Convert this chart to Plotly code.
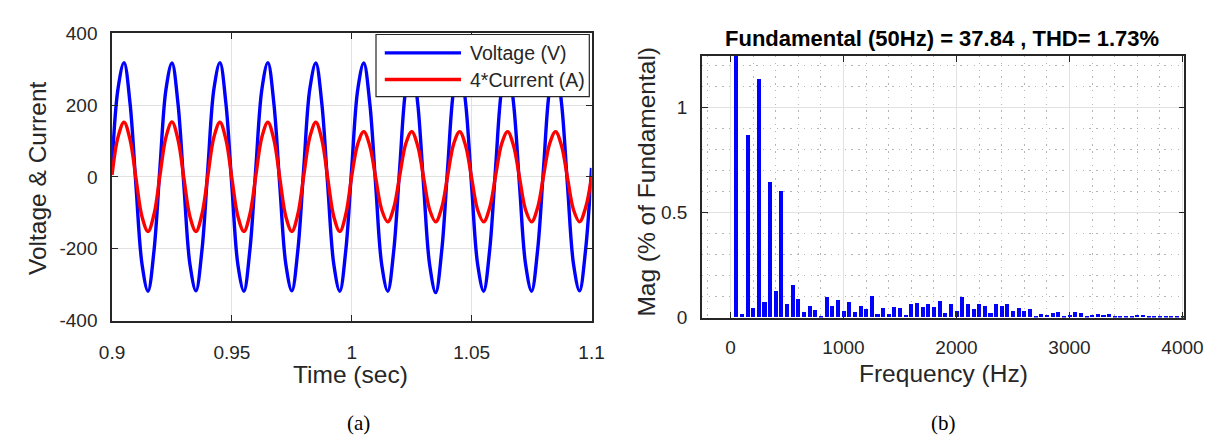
import plotly.graph_objects as go

W, H = 1230, 446

# ---- time-domain waveforms: 0.9 s .. 1.1 s, one sample every 2.5 ms ----
t_start = 0.9
t_step = 0.0025
voltage_v = [
    30, 246, 318, 205, -27, -243, -318, -205,
    28, 244, 317, 204, -28, -244, -317, -204,
    28, 245, 318, 204, -28, -245, -318, -203,
    28, 244, 318, 204, -28, -244, -317, -204,
    29, 245, 317, 204, -28, -244, -318, -204,
    28, 244, 317, 205, -27, -245, -318, -205,
    27, 244, 317, 204, -29, -246, -322, -206,
    27, 243, 316, 204, -28, -244, -318, -204,
    28, 244, 317, 203, -28, -244, -318, -204,
    27, 244, 317, 204, -27, -244, -317, -204,
    25,
]
current_x4 = [
    5, 111, 152, 104, -5, -111, -152, -104,
    5, 111, 153, 104, -5, -111, -152, -104,
    5, 111, 152, 104, -5, -110, -152, -104,
    5, 111, 152, 104, -5, -111, -152, -104,
    5, 111, 152, 104, -5, -111, -152, -104,
    4, 92, 126, 86, -4, -92, -125, -86,
    4, 92, 126, 86, -4, -92, -125, -86,
    4, 92, 126, 86, -4, -92, -125, -86,
    4, 92, 126, 86, -4, -92, -125, -86,
    4, 92, 126, 86, -4, -92, -125, -86,
    0,
]
voltage_name = "Voltage (V)"
current_name = "4*Current (A)"

# ---- harmonic spectrum: 50 Hz .. 4000 Hz in 50 Hz steps (% of fundamental) ----
f_start = 50
f_step = 50
mag_pct = [
    100.0, 0.015, 0.867, 0.047, 1.134, 0.076, 0.645, 0.124, 0.604, 0.065,   # 50-500
    0.156, 0.088, 0.024, 0.057, 0.036, 0.008, 0.098, 0.053, 0.082, 0.029,   # 550-1000
    0.074, 0.026, 0.054, 0.039, 0.101, 0.015, 0.045, 0.018, 0.050, 0.045,   # 1050-1500
    0.014, 0.066, 0.071, 0.050, 0.065, 0.051, 0.077, 0.023, 0.066, 0.030,   # 1550-2000
    0.098, 0.066, 0.041, 0.063, 0.057, 0.023, 0.066, 0.053, 0.066, 0.032,   # 2050-2500
    0.045, 0.030, 0.039, 0.009, 0.018, 0.014, 0.021, 0.024, 0.008, 0.014,   # 2550-3000
    0.026, 0.020, 0.005, 0.011, 0.018, 0.012, 0.018, 0.005, 0.008, 0.008,   # 3050-3500
    0.006, 0.011, 0.012, 0.008, 0.008, 0.008, 0.008, 0.005, 0.008, 0.006,   # 3550-4000
]
spectrum_title = "Fundamental (50Hz) = 37.84 , THD= 1.73%"

# ---- tick labels ----
time_ticks = [0.9, 0.95, 1.0, 1.05, 1.1]
time_tick_text = ["0.9", "0.95", "1", "1.05", "1.1"]
vi_ticks = [-400, -200, 0, 200, 400]
vi_tick_text = ["-400", "-200", "0", "200", "400"]
freq_ticks = [0, 1000, 2000, 3000, 4000]
freq_tick_text = ["0", "1000", "2000", "3000", "4000"]
mag_ticks = [0, 0.5, 1]
mag_tick_text = ["0", "0.5", "1"]

INK = "#262626"
FONT = "Liberation Sans, Arial, sans-serif"
SERIF = "Liberation Serif, Times New Roman, serif"


def px(x):
    return x / W


def py(y):
    return 1 - y / H


fig = go.Figure()

fig.add_trace(go.Scatter(
    x0=t_start, dx=t_step, y=voltage_v, name=voltage_name, mode="lines",
    line=dict(color="#0000ff", width=3.4, shape="spline", smoothing=1.0),
    showlegend=False, xaxis="x", yaxis="y"))
fig.add_trace(go.Scatter(
    x0=t_start, dx=t_step, y=current_x4, name=current_name, mode="lines",
    line=dict(color="#ff0000", width=3.4, shape="spline", smoothing=1.0),
    showlegend=False, xaxis="x", yaxis="y"))

fig.add_trace(go.Bar(
    x0=f_start, dx=f_step, y=mag_pct, width=36,
    marker=dict(color="#0000ff", line=dict(width=0)),
    showlegend=False, xaxis="x2", yaxis="y2"))

axis_common = dict(
    showline=True, linecolor=INK, linewidth=1.6, mirror="ticks",
    ticks="inside", ticklen=6, tickwidth=1.2, tickcolor=INK,
    zeroline=False, showgrid=True, gridcolor="#e2e2e2", gridwidth=1,
    tickfont=dict(family=FONT, size=19, color=INK),
)

minor_grid = dict(showgrid=True, gridcolor="#b5b5b5", gridwidth=1,
                  griddash="1.3px,5.5px", ticks="")

fig.update_layout(
    width=W, height=H,
    margin=dict(l=0, r=0, t=0, b=0),
    paper_bgcolor="white", plot_bgcolor="white",
    bargap=0,
    xaxis=dict(domain=[px(101.7), px(594)], range=[0.9, 1.1],
               tickvals=time_ticks, ticktext=time_tick_text,
               ticklabelstandoff=14, anchor="y", **axis_common),
    yaxis=dict(domain=[py(326), py(24.3)], range=[-400, 400],
               tickvals=vi_ticks, ticktext=vi_tick_text,
               ticklabelstandoff=9, anchor="x", **axis_common),
    xaxis2=dict(domain=[px(707.3), px(1202.7)], range=[-253, 4017],
                tickvals=freq_ticks, ticktext=freq_tick_text,
                ticklabelstandoff=12, anchor="y2",
                minor=dict(dtick=200, tick0=0, **minor_grid), **axis_common),
    yaxis2=dict(domain=[py(322.7), py(48.3)], range=[0, 1.245],
                tickvals=mag_ticks, ticktext=mag_tick_text,
                ticklabelstandoff=9, anchor="x2",
                minor=dict(dtick=0.1, tick0=0, **minor_grid), **axis_common),
)

# legend box drawn in paper space
lx0, lx1, ly0, ly1 = 372.7, 591.7, 25.7, 91.0
shapes = [
    dict(type="rect", xref="paper", yref="paper",
         x0=px(lx0), x1=px(lx1), y0=py(ly1), y1=py(ly0),
         fillcolor="white", line=dict(color=INK, width=1.2), layer="above"),
    dict(type="line", xref="paper", yref="paper",
         x0=px(381.7), x1=px(460), y0=py(45), y1=py(45),
         line=dict(color="#0000ff", width=3.4), layer="above"),
    dict(type="line", xref="paper", yref="paper",
         x0=px(381.7), x1=px(460), y0=py(73), y1=py(73),
         line=dict(color="#ff0000", width=3.4), layer="above"),
]
fig.update_layout(shapes=shapes)

annotations = [
    dict(text=voltage_name, x=px(466.7), y=py(45), xanchor="left", yanchor="middle",
         font=dict(family=FONT, size=19.5, color=INK)),
    dict(text=current_name, x=px(466.7), y=py(73), xanchor="left", yanchor="middle",
         font=dict(family=FONT, size=19.5, color=INK)),
    dict(text="Time (sec)", x=px(347), y=py(383), xanchor="center", yanchor="middle",
         font=dict(family=FONT, size=24.5, color=INK)),
    dict(text="Voltage & Current", x=px(25), y=py(176), xanchor="center",
         yanchor="middle", textangle=-90,
         font=dict(family=FONT, size=24.5, color=INK)),
    dict(text="Frequency (Hz)", x=px(955), y=py(381), xanchor="center",
         yanchor="middle", font=dict(family=FONT, size=24.5, color=INK)),
    dict(text="Mag (% of Fundamental)", x=px(650), y=py(180), xanchor="center",
         yanchor="middle", textangle=-90,
         font=dict(family=FONT, size=24.5, color=INK)),
    dict(text="<b>" + spectrum_title + "</b>", x=px(954), y=py(30),
         xanchor="center", yanchor="middle",
         font=dict(family=FONT, size=22, color="#000000")),
    dict(text="(a)", x=px(355), y=py(433), xanchor="center", yanchor="middle",
         font=dict(family=SERIF, size=21, color="#000000")),
    dict(text="(b)", x=px(955), y=py(433), xanchor="center", yanchor="middle",
         font=dict(family=SERIF, size=21, color="#000000")),
]
for a in annotations:
    a.update(xref="paper", yref="paper", showarrow=False)
fig.update_layout(annotations=annotations)

fig.write_html("out.html")
